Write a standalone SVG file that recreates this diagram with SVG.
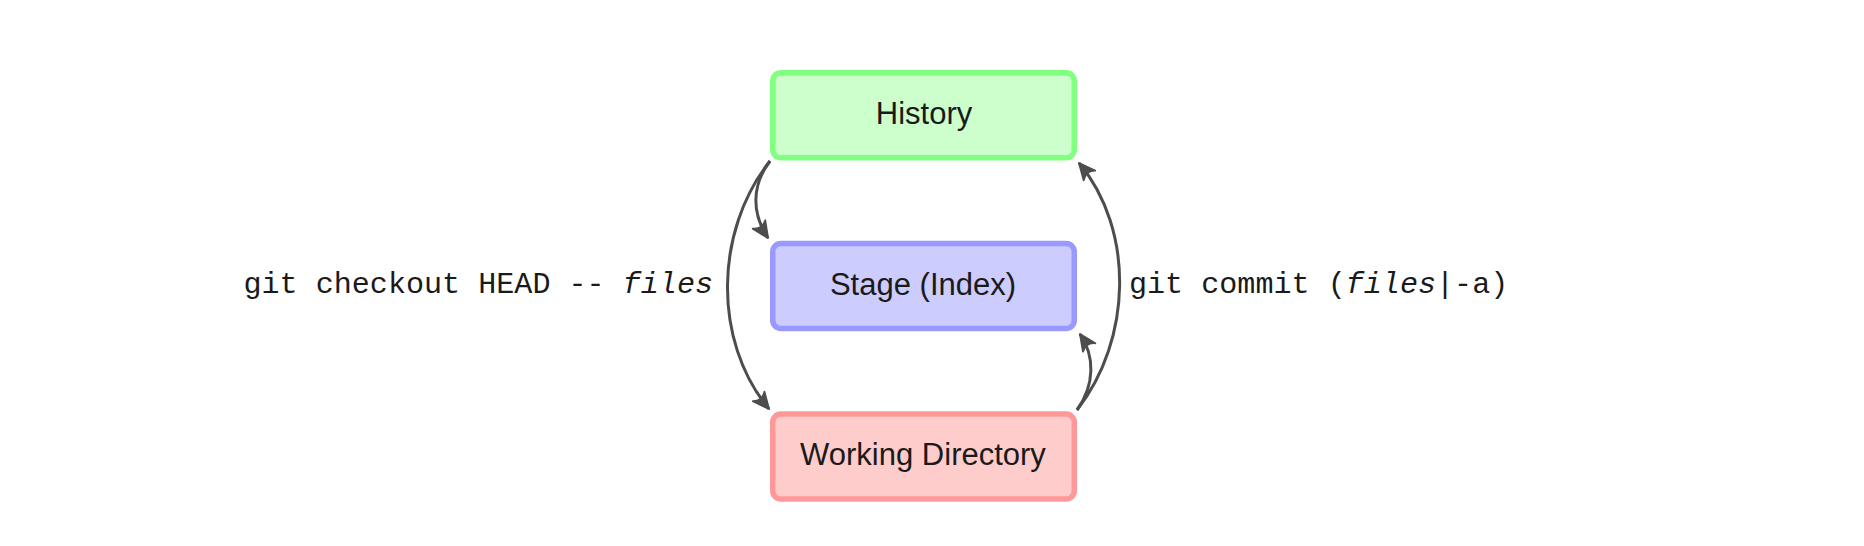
<svg xmlns="http://www.w3.org/2000/svg" width="1864" height="546" viewBox="0 0 1864 546">
<style>
.node text{font-family:"Liberation Sans","DejaVu Sans",sans-serif;font-size:31px;fill:#1a1a1a;text-anchor:middle}
.box{stroke-width:5.5}
.lbl{font-family:"Liberation Mono","DejaVu Sans Mono",monospace;font-size:30.1px;fill:#1a1a1a}
.conn path{fill:none;stroke:#4d4d4d;stroke-width:3;marker-end:url(#ah)}
</style>
<defs>
<marker id="ah" markerUnits="userSpaceOnUse" markerWidth="20" markerHeight="20" viewBox="-14 -8 16 16" refX="0" refY="0" orient="auto">
<path d="M0,0 L-13,-6 Q-8,0 -13,6 Z" fill="#4d4d4d" stroke="#4d4d4d" stroke-width="1.5" stroke-linejoin="round"/>
</marker>
</defs>
<rect width="1864" height="546" fill="#ffffff"/>
<g id="history" class="node">
<rect class="box" x="772.75" y="72.75" width="301.5" height="85" rx="8" fill="#ccffcc" stroke="#80ff80"/>
<text x="924" y="124">History</text>
</g>
<g id="stage" class="node">
<rect class="box" x="772.75" y="243.5" width="301.5" height="85" rx="8" fill="#ccccff" stroke="#9999ff"/>
<text x="923" y="295">Stage (Index)</text>
</g>
<g id="working" class="node">
<rect class="box" x="772.75" y="414" width="301.5" height="85" rx="8" fill="#ffcccc" stroke="#ff9999"/>
<text x="923" y="465">Working Directory</text>
</g>
<g id="connectors" class="conn">
<path d="M770,161 C715,230 712,340 769,409"/>
<path d="M770,161 C751,186 752,214 768,238"/>
<path d="M1077,410 C1132,340 1135,230 1079,163"/>
<path d="M1077,410 C1095,385 1095,356 1080,334"/>
</g>
<g id="labels">
<text class="lbl" x="713" y="293" text-anchor="end">git checkout HEAD -- <tspan font-style="italic">files</tspan></text>
<text class="lbl" x="1129" y="293">git commit (<tspan font-style="italic">files</tspan>|-a)</text>
</g>
</svg>
